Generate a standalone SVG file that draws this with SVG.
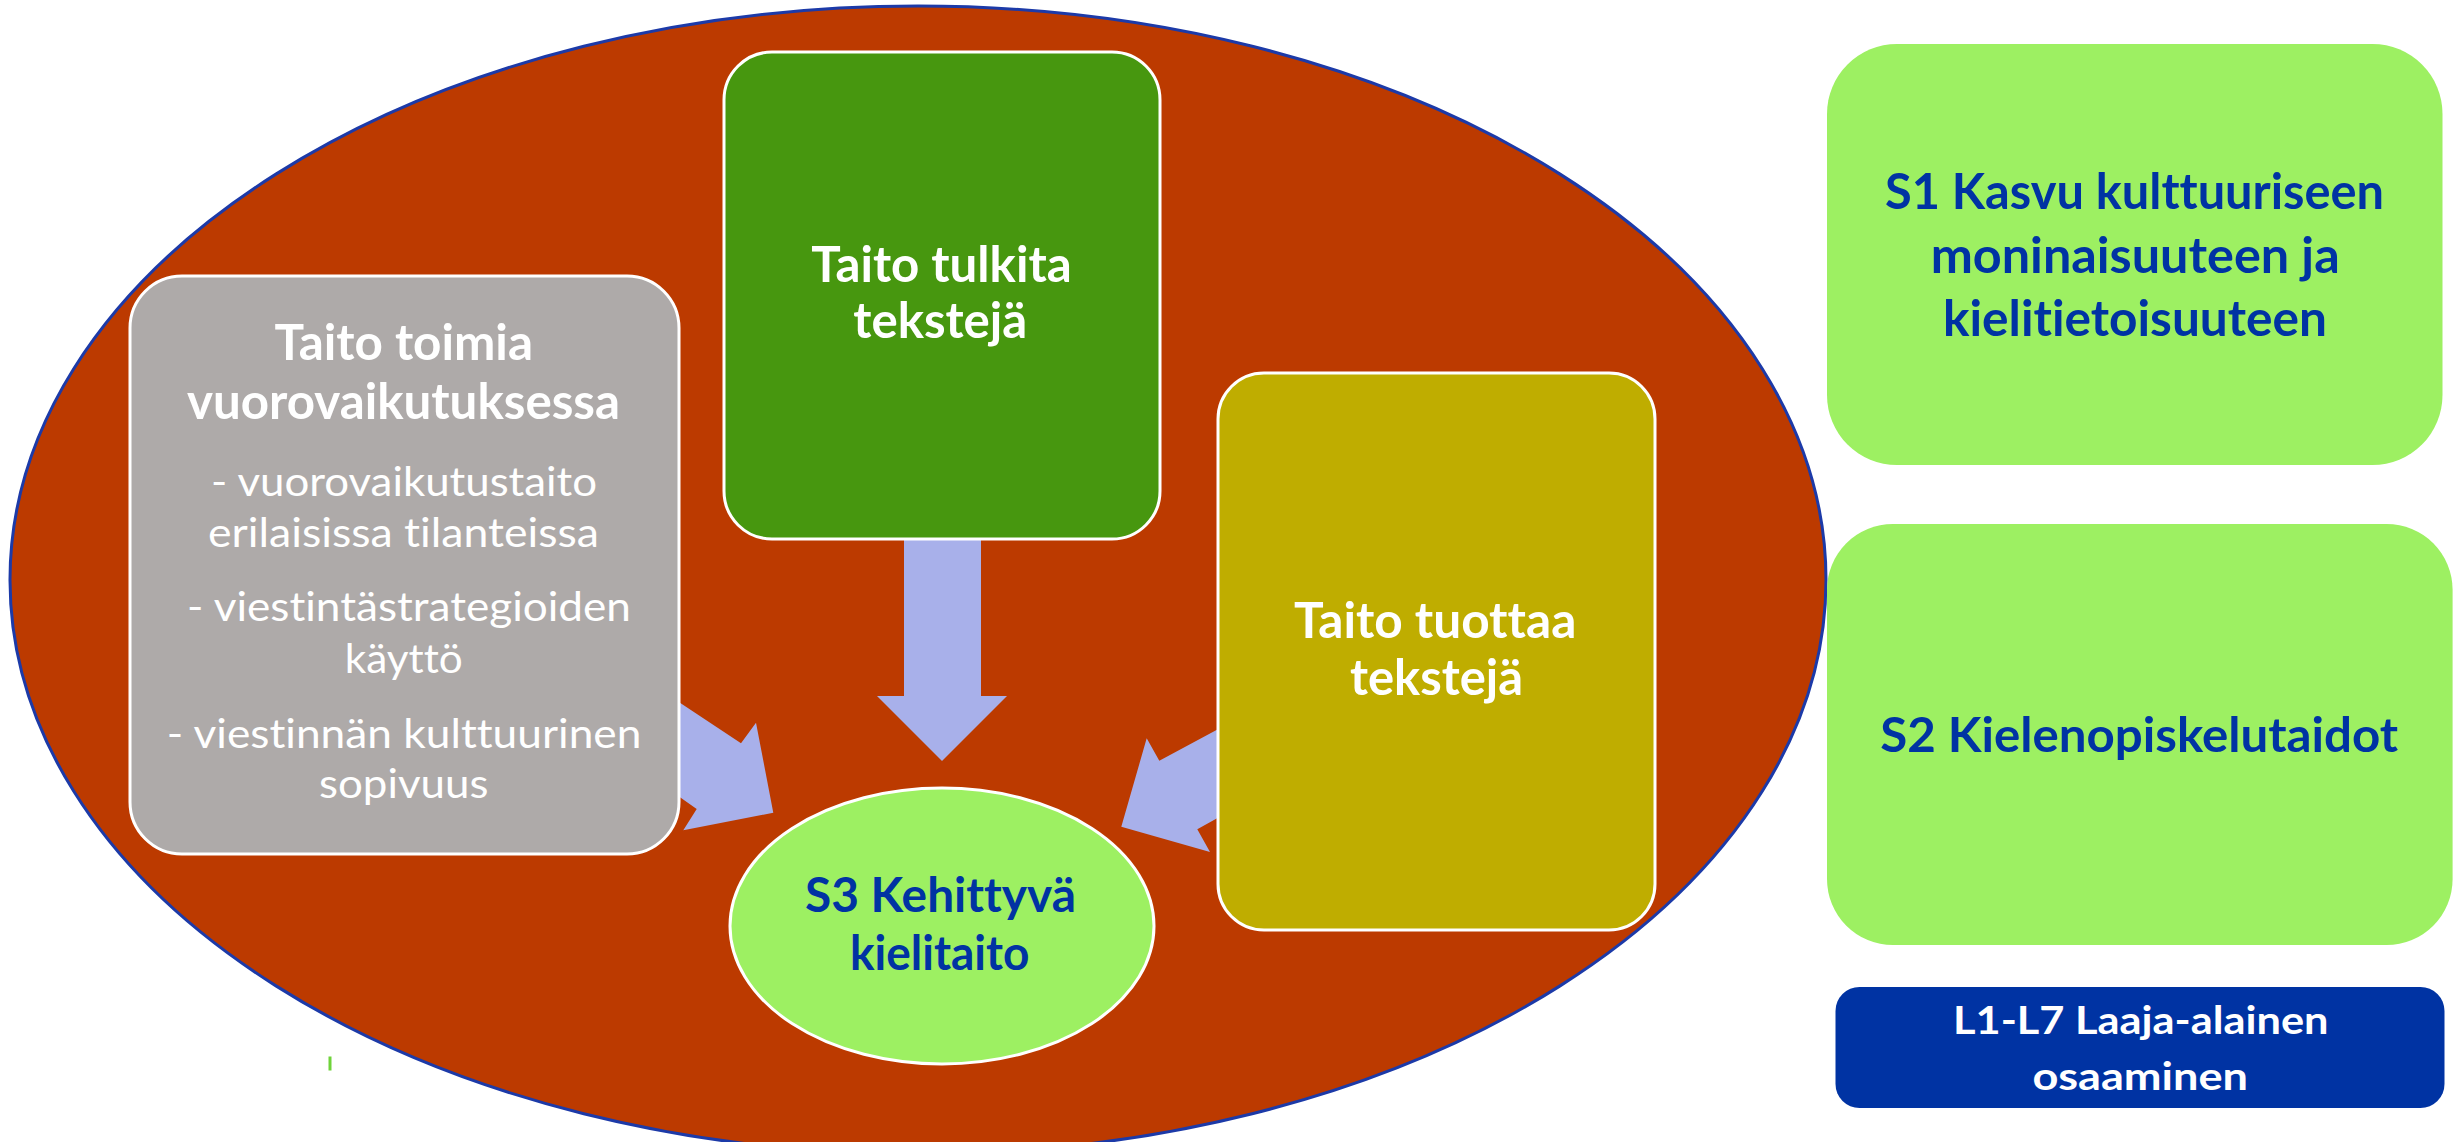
<svg xmlns="http://www.w3.org/2000/svg" width="2458" height="1142" viewBox="0 0 2458 1142">
<style>
.t{font-family:Lato,"Open Sans","Liberation Sans",sans-serif;font-variant-ligatures:none;font-feature-settings:"liga" 0,"clig" 0;}
.b{font-weight:700;}
.w{fill:#ffffff;}
.d{fill:#0033A3;}
.box{stroke:#ffffff;stroke-width:3;}
.arr{fill:#A8B0EA;stroke:none;}
</style>
<rect x="0" y="0" width="2458" height="1142" fill="#ffffff"/>
<g id="bg">
<ellipse cx="918" cy="580" rx="908" ry="574" fill="#BC3A00" stroke="#1C3AA8" stroke-width="3"/>
</g>
<g id="connectors">
<polygon class="arr" points="904,520 981,520 981,696 1007,696 942,761 877,696 904,696"/>
<polygon class="arr" points="620,663 741,743.3 756,722.7 773.3,812.7 683.3,830.3 696.7,809 620,755"/>
<polygon class="arr" points="1250,712 1159.3,760.7 1146.7,738.3 1121.3,826.7 1210,852 1197.3,829.3 1250,800"/>
</g>
<g id="n-toimia">
<rect class="box" x="130" y="276" width="549" height="578" rx="52" ry="52" fill="#AEAAA9"/>
<text class="t b w" x="274.5" y="360" font-size="50" textLength="258.5" lengthAdjust="spacingAndGlyphs">Taito toimia</text>
<text class="t b w" x="187" y="418.5" font-size="50" textLength="433" lengthAdjust="spacingAndGlyphs">vuorovaikutuksessa</text>
<text class="t w" x="211" y="495.7" font-size="41" textLength="386" lengthAdjust="spacingAndGlyphs">- vuorovaikutustaito</text>
<text class="t w" x="208" y="547" font-size="41" textLength="391" lengthAdjust="spacingAndGlyphs">erilaisissa tilanteissa</text>
<text class="t w" x="187" y="621" font-size="41" textLength="444" lengthAdjust="spacingAndGlyphs">- viestintästrategioiden</text>
<text class="t w" x="344.7" y="673" font-size="41" textLength="118" lengthAdjust="spacingAndGlyphs">käyttö</text>
<text class="t w" x="166.8" y="747.6" font-size="41" textLength="474.6" lengthAdjust="spacingAndGlyphs">- viestinnän kulttuurinen</text>
<text class="t w" x="319" y="798.4" font-size="41" textLength="169.5" lengthAdjust="spacingAndGlyphs">sopivuus</text>
</g>
<g id="n-tulkita">
<rect class="box" x="724" y="52" width="436" height="487" rx="48" ry="48" fill="#47970F"/>
<text class="t b w" x="811.3" y="281.7" font-size="50" textLength="260.4" lengthAdjust="spacingAndGlyphs">Taito tulkita</text>
<text class="t b w" x="853.3" y="338.3" font-size="50" textLength="174" lengthAdjust="spacingAndGlyphs">tekstejä</text>
</g>
<g id="n-tuottaa">
<rect class="box" x="1218" y="373" width="437" height="557" rx="46" ry="46" fill="#BFAD00"/>
<text class="t b w" x="1294" y="637.7" font-size="50" textLength="282.3" lengthAdjust="spacingAndGlyphs">Taito tuottaa</text>
<text class="t b w" x="1350" y="695" font-size="50" textLength="173" lengthAdjust="spacingAndGlyphs">tekstejä</text>
</g>
<g id="n-s3">
<ellipse class="box" cx="942" cy="926" rx="212" ry="138" fill="#9DF062"/>
<text class="t b d" x="805" y="911.7" font-size="48" textLength="271" lengthAdjust="spacingAndGlyphs">S3 Kehittyvä</text>
<text class="t b d" x="850" y="970" font-size="48" textLength="179.3" lengthAdjust="spacingAndGlyphs">kielitaito</text>
</g>
<g id="n-s1">
<rect x="1827" y="44" width="615.5" height="421" rx="70" ry="70" fill="#9DF062"/>
<text class="t b d" x="1885" y="209" font-size="49" textLength="499" lengthAdjust="spacingAndGlyphs">S1 Kasvu kulttuuriseen</text>
<text class="t b d" x="1930.7" y="272.7" font-size="49" textLength="409" lengthAdjust="spacingAndGlyphs">moninaisuuteen ja</text>
<text class="t b d" x="1943" y="336" font-size="49" textLength="384" lengthAdjust="spacingAndGlyphs">kielitietoisuuteen</text>
</g>
<g id="n-s2">
<rect x="1827" y="524" width="625.6" height="421" rx="66" ry="66" fill="#9DF062"/>
<text class="t b d" x="1880.2" y="752" font-size="47" textLength="518" lengthAdjust="spacingAndGlyphs">S2 Kielenopiskelutaidot</text>
</g>
<g id="n-l1">
<rect x="1835.5" y="987" width="609" height="121" rx="24" ry="24" fill="#0033A3"/>
<text class="t b w" x="1953" y="1034.3" font-size="39" textLength="375.5" lengthAdjust="spacingAndGlyphs">L1-L7 Laaja-alainen</text>
<text class="t b w" x="2032.4" y="1089.8" font-size="39" textLength="215.6" lengthAdjust="spacingAndGlyphs">osaaminen</text>
</g>
<g id="mark">
<rect x="328.5" y="1056.5" width="3" height="14" fill="#6FD33A"/>
</g>
</svg>
